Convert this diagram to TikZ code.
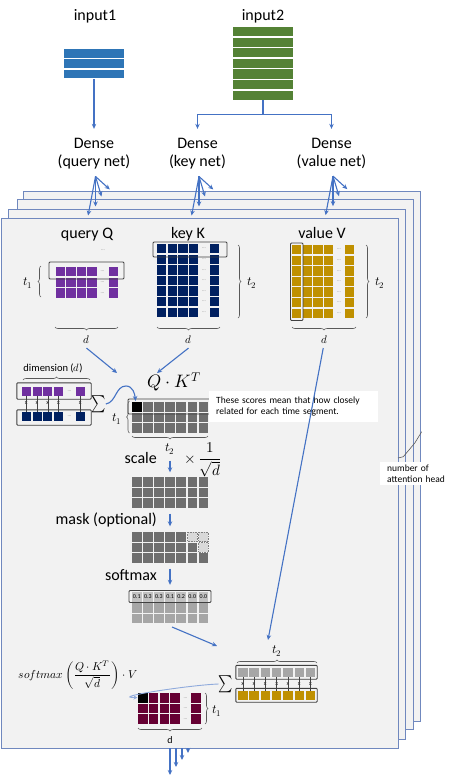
\documentclass[tikz,border=0pt]{standalone}
\usepackage{fontspec}
\usepackage{unicode-math}
\setmainfont{Carlito}
\setmathfont{Latin Modern Math}
\usetikzlibrary{arrows.meta,decorations.pathreplacing,positioning}
\definecolor{arrowblue}{HTML}{4472C4}
\definecolor{panelline}{HTML}{7088BE}
\definecolor{panelfill}{HTML}{F2F2F2}
\definecolor{inblue}{HTML}{2E75B6}
\definecolor{ingreen}{HTML}{548235}
\definecolor{qpurple}{HTML}{7030A0}
\definecolor{knavy}{HTML}{002060}
\definecolor{vgold}{HTML}{BF9000}
\definecolor{sgray}{HTML}{6F6F6F}
\definecolor{lgray}{HTML}{A6A6A6}
\definecolor{mgray}{HTML}{D9D9D9}
\definecolor{omaroon}{HTML}{660033}
\definecolor{boxgray}{HTML}{404040}
\definecolor{bracegray}{HTML}{595959}
\definecolor{curveblue}{HTML}{8FAADC}
\begin{document}
\begin{tikzpicture}[x=1pt,y=1pt]
\tikzstyle{every node}+=[inner sep=0pt]
\tikzstyle{arr}=[arrowblue, line width=1.1pt, -{Stealth[length=5pt,width=4.5pt]}]
\tikzstyle{panel}=[fill=panelfill, draw=panelline, line width=0.8pt]
\tikzstyle{lbl}=[font=\fontsize{16}{19}\selectfont, anchor=base]
\tikzstyle{note}=[font=\fontsize{9.5}{10.5}\selectfont, fill=white, align=left, inner xsep=7pt, inner ysep=4pt, anchor=north west]
\tikzstyle{sym}=[font=\fontsize{12.5}{14}\selectfont]
\tikzstyle{dsym}=[font=\fontsize{11}{13}\selectfont]
\tikzstyle{hbox}=[draw=boxgray, line width=0.9pt, rounded corners=1pt]
\tikzstyle{brc}=[draw=bracegray, line width=0.6pt, decorate, decoration={brace, amplitude=3pt}]
\tikzstyle{dots}=[text=gray, font=\fontsize{5}{5}\selectfont]
\tikzstyle{mult}=[font=\fontsize{6}{6}\selectfont\bfseries, text=boxgray]
\tikzstyle{mat}=[minimum width=2pt, minimum height=2pt]
\tikzstyle{sumsign}=[font=\fontsize{17}{17}\selectfont]
\useasboundingbox (0,0) rectangle (456,-784);

% inputs
\node[lbl] (in1) at (95,-21) {input1};
\node[lbl] (in2) at (263,-21) {input2};
\foreach \i in {0,1,2} \fill[inblue] (64,{-49-\i*10.3}) rectangle ++(60,-8.8);
\foreach \i in {0,...,6} \fill[ingreen] (233,{-27-\i*10.6}) rectangle ++(60,-9.3);
\node[mat, minimum width=60pt, minimum height=30pt] (bar1) at (94,-64) {};
\node[mat, minimum width=60pt, minimum height=73pt] (bar2) at (263,-63.5) {};

% dense nets
\node[lbl] (dq) at (94,-148.3) {Dense};
\node[lbl] (dq2) at (94,-166.7) {(query net)};
\node[lbl] (dk) at (197.5,-148.3) {Dense};
\node[lbl] (dk2) at (197.5,-166.7) {(key net)};
\node[lbl] (dv) at (331.5,-148.3) {Dense};
\node[lbl] (dv2) at (331.5,-166.7) {(value net)};
\draw[arr, shorten >=9pt] (bar1.south -| dq.north) -- (dq.north);
\draw[arr, shorten >=9pt] (bar2.south) -- ++(0,-14) -| (dk.north);
\draw[arr, shorten >=9pt] (bar2.south) -- ++(0,-14) -| (dv.north);

% attention heads
\draw[panel] (23,-191) rectangle (420,-721);
\draw[panel] (17,-199) rectangle (413,-729);
\draw[panel] (8,-209) rectangle (405,-739);
\draw[panel] (1,-218) rectangle (398,-748);
\foreach \n in {dq2,dk2,dv2}{
  \draw[arr] (\n.south) ++(1.5,-7) -- ++(-7.4,-39);
  \draw[arr] (\n.south) ++(1.5,-7) -- ++(0,-30);
  \draw[arr] (\n.south) ++(1.5,-7) -- ++(6,-20);
  \draw[arr] (\n.south) ++(1.5,-7) -- ++(14.3,-13);
}

% Q K V
\node[lbl] (qlbl) at (87,-238) {query Q};
\node[lbl] (klbl) at (188,-238) {key K};
\node[lbl] (vlbl) at (322,-238) {value V};
\node[mat, minimum width=63pt, minimum height=31pt] (Qm) at (86.7,-282) {};
\foreach \r in {0,1,2}{
  \foreach \x in {0,1,2,3,5} \fill[qpurple] ({55.5+\x*10.6},{-267-\r*10.6}) rectangle ++(9.4,-9.4);
  \node[dots] (qd\r) at ({55.5+4*10.6+4.7},{-271.7-\r*10.6}) {...};
}
\node[dots] (qdt) at (103,-250) {...};
\draw[hbox] (49,-262) rectangle (124,-279);
\node[mat, minimum width=63pt, minimum height=74pt] (Km) at (188.5,-281) {};
\foreach \r in {0,...,6}{
  \foreach \x in {0,1,2,3,5} \fill[knavy] ({157+\x*10.6},{-244-\r*10.6}) rectangle ++(9.4,-9.4);
  \node[dots] (kd\r) at ({157+4*10.6+4.7},{-248.7-\r*10.6}) {...};
}
\draw[hbox] (153,-242) rectangle (227,-257);
\node[mat, minimum width=63pt, minimum height=74pt] (Vm) at (323.5,-282) {};
\foreach \r in {0,...,6}{
  \foreach \x in {0,1,2,3,5} \fill[vgold] ({292+\x*10.6},{-245-\r*10.6}) rectangle ++(9.4,-9.4);
  \node[dots] (vd\r) at ({292+4*10.6+4.7},{-249.7-\r*10.6}) {...};
}
\draw[hbox] (290.5,-243) rectangle (303,-320.5);
\draw[brc] (41,-297) -- (41,-266);
\node[sym] (qt) at (28,-283) {$t_1$};
\draw[brc] (118,-327) -- (55,-327);
\node[dsym] (qdl) at (86.5,-340) {$d$};
\draw[brc] (238,-245) -- (238,-318);
\node[sym] (kt) at (252,-283) {$t_2$};
\draw[brc] (220,-327) -- (157,-327);
\node[dsym] (kdl) at (188.5,-340) {$d$};
\draw[brc] (366,-245) -- (366,-318);
\node[sym] (vt) at (380,-283) {$t_2$};
\draw[brc] (356,-327) -- (292,-327);
\node[dsym] (vdl) at (324,-340) {$d$};

% dot product
\coordinate (qin) at (117,-373);
\coordinate (kin) at (157,-373);
\draw[arr] (qdl.south) ++(0,-4) -- (qin);
\draw[arr] (kdl.south) ++(0,-4) -- (kin);
\node[font=\fontsize{10.5}{12}\selectfont] (diml) at (53,-368) {dimension ($d$)};
\draw[brc] (23,-380) -- (90,-380);
\node[mat, minimum width=74pt, minimum height=16pt] (Pr) at (54,-391) {};
\node[mat, minimum width=74pt, minimum height=15pt] (Nr) at (54,-417.5) {};
\foreach \x in {0,1,2,3,5}{
  \fill[qpurple] ({21.7+\x*10.8},-386.5) rectangle ++(9,-9);
  \fill[knavy] ({21.7+\x*10.8},-412) rectangle ++(9,-9);
  \draw[boxgray, line width=0.5pt] ({26.2+\x*10.8},-395.5) -- ({26.2+\x*10.8},-412);
  \node[mult] (dx\x) at ({26.2+\x*10.8},-403.5) {x};
}
\node[dots] (pd) at ({21.7+4*10.8+4.5},-391) {...};
\node[dots] (nd) at ({21.7+4*10.8+4.5},-416.5) {...};
\draw[hbox] (Pr.north west) rectangle (Pr.south east);
\draw[hbox] (Nr.north west) rectangle (Nr.south east);
\node[sumsign] (sig1) at (98.5,-404) {\scalebox{0.8}[1]{$\sum$}};
\node (qk) at (174,-382) {\fontsize{18}{20}\selectfont$Q\cdot K^{T}$};
\node[mat, minimum width=76pt, minimum height=31pt] (Sm) at (170,-417) {};
\foreach \r in {0,1,2} \foreach \c in {0,...,6} \fill[sgray] ({132+\c*11.1},{-402-\r*10.5}) rectangle ++(9.5,-9.5);
\fill[black] (132,-402) rectangle ++(9.5,-9.5);
\draw[hbox] (128,-399) rectangle (211,-414);
\draw[arr] (sig1.east) to[out=10,in=180] (126,-386) to[out=0,in=95] (135.5,-401);
\draw[brc] (129.5,-433) -- (129.5,-401);
\node[sym] (st1) at (117,-419) {$t_1$};
\draw[brc] (208,-436) -- (132,-436);
\node[sym] (st2) at (170,-449) {$t_2$};
\node[note, text width=155pt, minimum height=31pt] (note) at (209,-391) {These scores mean that how closely\\related for each time segment.};

% scale, mask, softmax
\node[lbl, anchor=base east] (scl) at (157,-463.5) {scale};
\node (frac) at (203,-460) {\fontsize{15}{18}\selectfont$\times\,\dfrac{1}{\sqrt{d}}$};
\node[mat, minimum width=76pt, minimum height=31pt] (Scm) at (170,-492) {};
\foreach \r in {0,1,2} \foreach \c in {0,...,6} \fill[sgray] ({132+\c*11.1},{-477-\r*10.5}) rectangle ++(9.5,-9.5);
\draw[arr, shorten <=6pt, shorten >=4pt] (st2.south) -- (Scm.north);
\node[lbl, anchor=base east] (msk) at (157,-524) {mask (optional)};
\node[mat, minimum width=76pt, minimum height=31pt] (Mm) at (170,-547) {};
\foreach \r in {0,1,2} \foreach \c in {0,...,6} \fill[sgray] ({132+\c*11.1},{-532-\r*10.5}) rectangle ++(9.5,-9.5);
\foreach \c/\r in {5/0,6/0,6/1} \filldraw[fill=mgray, draw=gray, densely dotted, line width=0.6pt] ({132+\c*11.1},{-532-\r*10.5}) rectangle ++(9.5,-9.5);
\draw[arr, shorten <=6pt, shorten >=5pt] (Scm.south) -- (Mm.north);
\node[lbl, anchor=base east] (smx) at (157,-580.5) {softmax};
\node[mat, minimum width=82pt, minimum height=31pt] (Pm) at (170,-606.5) {};
\foreach \c/\v in {0/0.1,1/0.3,2/0.3,3/0.1,4/0.2,5/0.0,6/0.0}{
  \fill[lgray!70] ({132+\c*11.1},-592) rectangle ++(9.5,-9.5);
  \node[font=\fontsize{6}{6}\selectfont] (pv\c) at ({136.75+\c*11.1},-596.75) {\v};
}
\foreach \r in {1,2} \foreach \c in {0,...,6} \fill[lgray] ({132+\c*11.1},{-592.5-\r*10.5}) rectangle ++(9.5,-9.5);
\draw[hbox] (129,-590.5) rectangle (211,-602.5);
\draw[arr, shorten <=6pt, shorten >=6pt] (Mm.south) -- (Pm.north);

% weighted sum with V
\coordinate (pin) at (217,-646);
\draw[arr] (172,-627) -- (pin);
\coordinate (vin) at (268,-640);
\draw[arr, shorten <=4pt] (vdl.south) -- (vin);
\node[sym] (bt2) at (277,-651) {$t_2$};
\draw[brc] (237,-663) -- (317,-663);
\node[mat, minimum width=81pt, minimum height=13.5pt] (Gr) at (276.5,-672.25) {};
\node[mat, minimum width=81pt, minimum height=13.5pt] (Yr) at (276.5,-695.25) {};
\foreach \c in {0,...,6}{
  \fill[lgray] ({238+\c*11.3},-667.5) rectangle ++(9.5,-9.5);
  \fill[vgold] ({238+\c*11.3},-690.5) rectangle ++(9.5,-9.5);
  \draw[boxgray, line width=0.5pt] ({242.75+\c*11.3},-677) -- ({242.75+\c*11.3},-690.5);
  \node[mult] (bx\c) at ({242.75+\c*11.3},-683.75) {x};
}
\draw[hbox] (Gr.north west) rectangle (Gr.south east);
\draw[hbox] (Yr.north west) rectangle (Yr.south east);
\node[sumsign] (sig2) at (226,-684) {\scalebox{0.8}[1]{$\sum$}};

% output
\node (fml) at (78,-675) {\fontsize{11.5}{14}\selectfont$softmax\left(\dfrac{Q\cdot K^{T}}{\sqrt{d}}\right)\cdot V$};
\node[mat, minimum width=63pt, minimum height=31pt] (Om) at (170,-708.5) {};
\foreach \r in {0,1,2}{
  \foreach \x in {0,1,2,3,5} \fill[omaroon] ({138.3+\x*10.6},{-693.3-\r*10.5}) rectangle ++(9.4,-9.4);
  \node[dots] (od\r) at ({138.3+4*10.6+4.7},{-698-\r*10.5}) {...};
}
\fill[black] (138.3,-693.3) rectangle ++(9.4,-9.4);
\draw[curveblue, line width=0.9pt, -{Stealth[length=4pt,width=4pt]}] (sig2.west) to[out=182,in=180,looseness=0.9] (137.5,-697.5);
\draw[brc] (205,-693) -- (205,-724);
\node[sym] (ot1) at (217,-711) {$t_1$};
\draw[brc] (202,-728) -- (138,-728);
\node[font=\fontsize{10}{12}\selectfont] (odl) at (170,-740) {d};

% outputs of all heads
\foreach \dx/\len in {0/27,6/19,12/12,18/5} \draw[arr] ({170+\dx},-748) -- ++(0,-\len);

% number of heads
\draw[bracegray, line width=0.6pt] (398,-458) -- (403.3,-456.7) -- (411.7,-446.7) -- (415,-442.7) -- (421.7,-431.7);
\node[note, text width=62pt, inner ysep=3pt] (nah) at (380,-462) {number of\\attention head};
\end{tikzpicture}
\end{document}
